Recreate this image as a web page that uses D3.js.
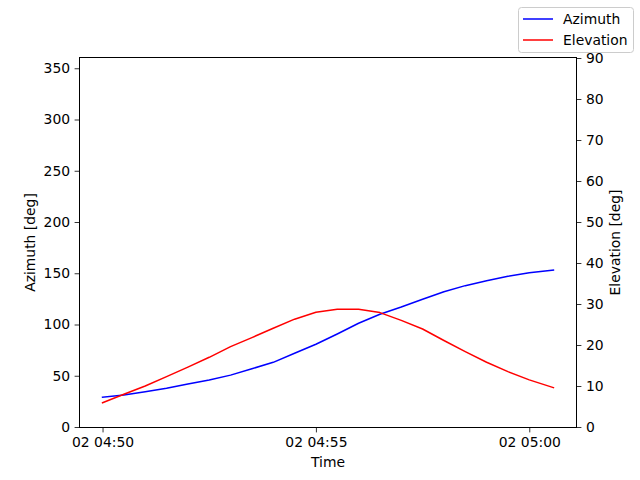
<!DOCTYPE html>
<html>
<head>
<meta charset="utf-8">
<script src="https://cdn.jsdelivr.net/npm/d3@7"></script>
<style>
  body { margin: 0; background: #fff; }
  svg { display: block; font-family: "DejaVu Sans", sans-serif; }
</style>
</head>
<body>
<div class="box"></div>
<script>
// sample times (UTC, day 02) and the two series
let times = ["04:50:00", "04:50:30", "04:51:00", "04:51:30", "04:52:00", "04:52:30",
             "04:53:00", "04:53:30", "04:54:00", "04:54:30", "04:55:00", "04:55:30",
             "04:56:00", "04:56:30", "04:57:00", "04:57:30", "04:58:00", "04:58:30",
             "04:59:00", "04:59:30", "05:00:00", "05:00:34"]
let azimuth = [29.0, 31.2, 34.4, 37.7, 42.0, 45.9, 50.6, 56.8, 63.1, 71.9, 80.7,
               90.7, 101.2, 110.0, 117.0, 124.6, 132.0, 137.9, 142.7, 147.0, 150.5, 153.2]
let elevation = [5.9, 8.0, 10.0, 12.3, 14.6, 17.0, 19.6, 21.8, 24.1, 26.3, 28.0,
                 28.7, 28.7, 27.9, 26.0, 23.9, 21.1, 18.4, 15.8, 13.5, 11.5, 9.6]
let azTicks = [0, 50, 100, 150, 200, 250, 300, 350]
let elTicks = [0, 10, 20, 30, 40, 50, 60, 70, 80, 90]
let legendNames = ["Azimuth", "Elevation"]
let colors = ["#0000ff", "#ff0000"]

let W = 640, H = 480
let m = {l: 80, r: 576, t: 58, b: 427}
let fs = "13.9px"

let parse = d3.utcParse("%Y-%m-%d %H:%M:%S")
let dates = times.map(t => parse("2024-01-02 " + t))

let svg = d3.select('.box')
  .append("svg")
  .attr("width", W)
  .attr("height", H)

// matplotlib-like 5% margin on x
let t0 = +dates[0], t1 = +dates[dates.length - 1]
let pad = (t1 - t0) * 0.05
let x = d3.scaleUtc().domain([new Date(t0 - pad), new Date(t1 + pad)]).range([m.l, m.r])
let yA = d3.scaleLinear().domain([0, 360]).range([m.b, m.t])
let yE = d3.scaleLinear().domain([0, 90]).range([m.b, m.t])

let styleAxis = (g) => {
  g.select(".domain").remove()
  g.selectAll("line").attr("stroke", "#000").attr("stroke-width", 0.8)
  g.selectAll("text").attr("font-size", fs).attr("fill", "#000")
    .attr("font-family", "DejaVu Sans, sans-serif")
}

svg.append("g")
  .attr("transform", `translate(0,${m.b + 0.5})`)
  .call(d3.axisBottom(x).ticks(d3.utcMinute.every(5)).tickFormat(d3.utcFormat("%d %H:%M"))
    .tickSize(4.9).tickPadding(4.5))
  .call(styleAxis)

svg.append("g")
  .attr("transform", `translate(${m.l - 0.5},0)`)
  .call(d3.axisLeft(yA).tickValues(azTicks).tickSize(4.9).tickPadding(4.5))
  .call(styleAxis)

svg.append("g")
  .attr("transform", `translate(${m.r + 0.5},0)`)
  .call(d3.axisRight(yE).tickValues(elTicks).tickSize(4.9).tickPadding(4.5))
  .call(styleAxis)

// series lines
let series = [azimuth, elevation]
let scales = [yA, yE]
series.forEach((vals, i) => {
  let line = d3.line()
    .x((d, j) => x(dates[j]))
    .y(d => scales[i](d))
  svg.append("path")
    .datum(vals)
    .attr("d", line)
    .attr("fill", "none")
    .attr("stroke", colors[i])
    .attr("stroke-width", 1.5)
    .attr("stroke-linejoin", "round")
    .attr("stroke-linecap", "square")
})

// frame (half-pixel offset so it stays crisp)
svg.append("rect")
  .attr("x", m.l - 0.5).attr("y", m.t - 0.5)
  .attr("width", m.r - m.l + 1).attr("height", m.b - m.t + 1)
  .attr("fill", "none").attr("stroke", "#000").attr("stroke-width", 1)

// axis labels
svg.append("text")
  .attr("x", (m.l + m.r) / 2).attr("y", 467)
  .attr("text-anchor", "middle").attr("font-size", fs)
  .text("Time")

svg.append("text")
  .attr("transform", `translate(35,${(m.t + m.b) / 2}) rotate(-90)`)
  .attr("text-anchor", "middle").attr("font-size", fs)
  .text("Azimuth [deg]")

svg.append("text")
  .attr("transform", `translate(620,${(m.t + m.b) / 2}) rotate(-90)`)
  .attr("text-anchor", "middle").attr("font-size", fs)
  .text("Elevation [deg]")

// figure legend, upper right
let lg = svg.append("g")
lg.append("rect")
  .attr("x", 518.5).attr("y", 7.5)
  .attr("width", 115).attr("height", 45)
  .attr("rx", 3)
  .attr("fill", "#fff").attr("fill-opacity", 0.8)
  .attr("stroke", "#cccccc").attr("stroke-width", 1)

legendNames.forEach((name, i) => {
  let yy = 19 + i * 21
  lg.append("line")
    .attr("x1", 523).attr("x2", 553)
    .attr("y1", yy).attr("y2", yy)
    .attr("stroke", colors[i]).attr("stroke-width", 1.5)
  lg.append("text")
    .attr("x", 563).attr("y", yy + 5)
    .attr("font-size", fs)
    .text(name)
})
</script>
</body>
</html>
